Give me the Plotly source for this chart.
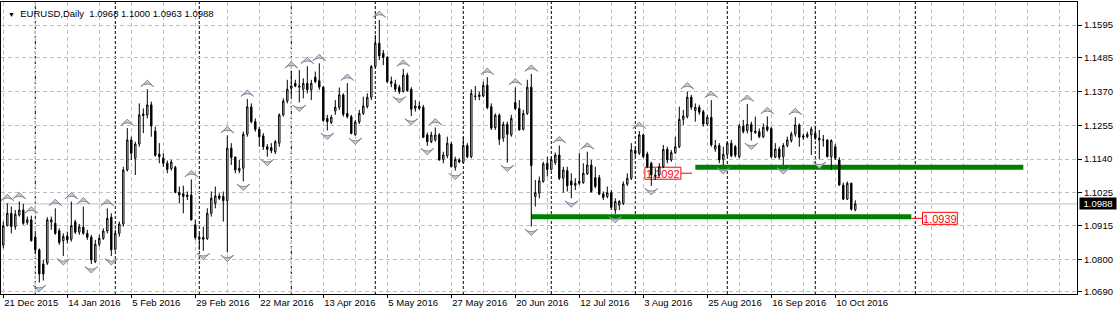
import plotly.graph_objects as go

symbol = "EURUSD,Daily"

opens = [1.0848,1.0915,1.0956,1.0911,1.0950,1.0967,1.0925,1.0934,1.0875,1.0832,
         1.0784,1.0787,1.0926,1.0922,1.0897,1.0863,1.0879,1.0868,1.0927,1.0892,
         1.0909,1.0888,1.0875,1.0792,1.0851,1.0871,1.0896,1.0943,1.0834,1.0888,
         1.0920,1.1103,1.1205,1.1143,1.1191,1.1293,1.1290,1.1324,1.1235,1.1157,
         1.1143,1.1126,1.1108,1.1112,1.1027,1.1022,1.1018,1.1018,1.0917,1.0875,
         1.0874,1.0870,1.0956,1.0990,1.1015,1.1013,1.0999,1.1177,1.1147,1.1101,
         1.1109,1.1224,1.1317,1.1267,1.1241,1.1219,1.1182,1.1179,1.1165,1.1194,
         1.1290,1.1337,1.1380,1.1397,1.1384,1.1377,1.1397,1.1375,1.1418,1.1406,
         1.1384,1.1278,1.1264,1.1303,1.1316,1.1358,1.1295,1.1284,1.1222,1.1266,
         1.1295,1.1318,1.1350,1.1454,1.1533,1.1499,1.1485,1.1403,1.1395,1.1384,
         1.1369,1.1425,1.1377,1.1312,1.1320,1.1316,1.1222,1.1199,1.1205,1.1222,
         1.1139,1.1151,1.1191,1.1112,1.1137,1.1129,1.1186,1.1148,1.1352,1.1352,
         1.1354,1.1391,1.1318,1.1247,1.1289,1.1211,1.1258,1.1222,1.1332,1.1312,
         1.1241,1.1295,1.1384,1.1013,1.1024,1.1064,1.1126,1.1105,1.1128,1.1154,
         1.1075,1.1101,1.1066,1.1051,1.1064,1.1060,1.1090,1.1120,1.1077,1.1077,
         1.1022,1.1013,1.1026,1.0967,1.0984,1.0990,1.1055,1.1075,1.1169,1.1160,
         1.1222,1.1157,1.1126,1.1081,1.1086,1.1114,1.1173,1.1137,1.1162,1.1182,
         1.1275,1.1284,1.1350,1.1305,1.1316,1.1301,1.1259,1.1282,1.1174,1.1186,
         1.1139,1.1156,1.1194,1.1182,1.1148,1.1252,1.1237,1.1258,1.1230,1.1233,
         1.1216,1.1250,1.1244,1.1146,1.1174,1.1148,1.1186,1.1203,1.1225,1.1256,
         1.1219,1.1216,1.1222,1.1227,1.1211,1.1205,1.1205,1.1148,1.1182,1.1137,
         1.1052,1.1004,1.1058,1.0968]
highs = [1.0928,1.0990,1.0979,1.0967,1.0996,1.0988,1.0945,1.0948,1.0888,1.0837,
         1.0798,1.0943,1.0945,1.0973,1.0905,1.0888,1.0894,1.0996,1.0934,1.0920,
         1.0979,1.0900,1.0883,1.0866,1.0883,1.0905,1.0973,1.0956,1.0900,1.0928,
         1.1114,1.1245,1.1216,1.1199,1.1329,1.1312,1.1377,1.1335,1.1250,1.1194,
         1.1160,1.1135,1.1137,1.1117,1.1047,1.1050,1.1030,1.1071,1.0934,1.0888,
         1.0911,1.0973,1.1030,1.1047,1.1024,1.1030,1.1220,1.1194,1.1148,1.1137,
         1.1233,1.1344,1.1329,1.1278,1.1250,1.1228,1.1191,1.1194,1.1205,1.1295,
         1.1346,1.1409,1.1440,1.1409,1.1442,1.1414,1.1455,1.1409,1.1437,1.1465,
         1.1388,1.1290,1.1290,1.1340,1.1383,1.1363,1.1398,1.1290,1.1273,1.1307,
         1.1352,1.1363,1.1459,1.1561,1.1612,1.1510,1.1490,1.1420,1.1409,1.1392,
         1.1446,1.1433,1.1384,1.1340,1.1335,1.1324,1.1230,1.1233,1.1247,1.1228,
         1.1165,1.1216,1.1199,1.1148,1.1143,1.1216,1.1194,1.1377,1.1388,1.1369,
         1.1403,1.1418,1.1329,1.1295,1.1295,1.1267,1.1267,1.1290,1.1383,1.1340,
         1.1307,1.1409,1.1429,1.1069,1.1081,1.1131,1.1148,1.1148,1.1162,1.1186,
         1.1114,1.1114,1.1092,1.1075,1.1160,1.1126,1.1165,1.1137,1.1114,1.1086,
         1.1030,1.1047,1.1035,1.1007,1.1001,1.1064,1.1092,1.1194,1.1182,1.1235,
         1.1227,1.1165,1.1131,1.1109,1.1126,1.1188,1.1182,1.1171,1.1216,1.1318,
         1.1307,1.1369,1.1358,1.1329,1.1324,1.1307,1.1290,1.1340,1.1205,1.1194,
         1.1182,1.1199,1.1205,1.1188,1.1259,1.1273,1.1327,1.1267,1.1284,1.1244,
         1.1261,1.1285,1.1250,1.1194,1.1182,1.1194,1.1216,1.1233,1.1282,1.1261,
         1.1227,1.1233,1.1250,1.1250,1.1239,1.1222,1.1207,1.1207,1.1191,1.1146,
         1.1060,1.1064,1.1060,1.1000]
lows = [1.0837,1.0911,1.0888,1.0900,1.0945,1.0917,1.0917,1.0860,1.0820,1.0721,
        1.0728,1.0781,1.0900,1.0883,1.0849,1.0811,1.0854,1.0860,1.0886,1.0883,
        1.0883,1.0866,1.0784,1.0787,1.0843,1.0866,1.0888,1.0811,1.0829,1.0877,
        1.0911,1.1098,1.1137,1.1086,1.1182,1.1228,1.1278,1.1216,1.1148,1.1126,
        1.1114,1.1092,1.1101,1.1024,1.0990,1.0956,1.1001,1.0931,1.0866,1.0832,
        1.0829,1.0866,1.0945,1.0973,1.1001,1.0928,1.0823,1.1120,1.1092,1.1092,
        1.1064,1.1216,1.1261,1.1233,1.1182,1.1171,1.1148,1.1160,1.1157,1.1182,
        1.1284,1.1329,1.1352,1.1384,1.1332,1.1346,1.1363,1.1340,1.1397,1.1375,
        1.1267,1.1237,1.1259,1.1290,1.1307,1.1284,1.1278,1.1224,1.1220,1.1259,
        1.1290,1.1312,1.1340,1.1448,1.1476,1.1459,1.1397,1.1384,1.1369,1.1361,
        1.1366,1.1369,1.1286,1.1301,1.1307,1.1211,1.1185,1.1194,1.1199,1.1135,
        1.1126,1.1143,1.1112,1.1101,1.1126,1.1126,1.1143,1.1143,1.1340,1.1340,
        1.1350,1.1309,1.1239,1.1239,1.1188,1.1199,1.1128,1.1216,1.1307,1.1237,
        1.1237,1.1290,1.0911,1.0979,1.1007,1.1060,1.1081,1.1101,1.1120,1.1069,
        1.1026,1.1030,1.1007,1.1035,1.1052,1.1056,1.1086,1.1026,1.1041,1.1018,
        1.1001,1.1007,1.0967,1.0954,1.0967,1.0984,1.1049,1.1069,1.1148,1.1154,
        1.1143,1.1109,1.1049,1.1069,1.1081,1.1109,1.1126,1.1131,1.1157,1.1177,
        1.1256,1.1278,1.1307,1.1267,1.1290,1.1250,1.1252,1.1182,1.1165,1.1126,
        1.1120,1.1148,1.1146,1.1146,1.1143,1.1227,1.1227,1.1203,1.1225,1.1211,
        1.1211,1.1233,1.1143,1.1143,1.1139,1.1120,1.1180,1.1196,1.1216,1.1182,
        1.1205,1.1211,1.1154,1.1205,1.1139,1.1182,1.1146,1.1103,1.1137,1.1049,
        1.1001,1.1001,1.0965,1.0963]
closes = [1.0913,1.0956,1.0911,1.0953,1.0967,1.0922,1.0934,1.0863,1.0832,1.0750,
          1.0750,1.0934,1.0934,1.0888,1.0857,1.0877,1.0866,1.0914,1.0892,1.0910,
          1.0888,1.0875,1.0798,1.0851,1.0871,1.0896,1.0939,1.0832,1.0888,1.0920,
          1.1103,1.1205,1.1160,1.1191,1.1290,1.1288,1.1324,1.1252,1.1153,1.1148,
          1.1126,1.1105,1.1130,1.1027,1.1018,1.1013,1.1013,1.0934,1.0874,1.0868,
          1.0868,1.0956,1.1007,1.1015,1.1007,1.0999,1.1177,1.1145,1.1103,1.1109,
          1.1224,1.1317,1.1267,1.1241,1.1216,1.1182,1.1173,1.1168,1.1199,1.1290,
          1.1337,1.1377,1.1388,1.1388,1.1388,1.1397,1.1375,1.1397,1.1403,1.1384,
          1.1271,1.1267,1.1282,1.1316,1.1358,1.1292,1.1284,1.1227,1.1266,1.1295,
          1.1320,1.1350,1.1454,1.1533,1.1490,1.1485,1.1403,1.1397,1.1377,1.1369,
          1.1425,1.1372,1.1309,1.1320,1.1312,1.1214,1.1199,1.1222,1.1222,1.1137,
          1.1154,1.1194,1.1114,1.1139,1.1130,1.1186,1.1148,1.1363,1.1354,1.1358,
          1.1390,1.1315,1.1245,1.1289,1.1207,1.1258,1.1224,1.1278,1.1311,1.1239,
          1.1295,1.1384,1.1118,1.1026,1.1066,1.1124,1.1105,1.1139,1.1154,1.1075,
          1.1103,1.1049,1.1052,1.1058,1.1058,1.1092,1.1120,1.1030,1.1047,1.1021,
          1.1010,1.1026,1.0976,1.0996,1.0996,1.1055,1.1075,1.1171,1.1160,1.1222,
          1.1148,1.1114,1.1086,1.1086,1.1114,1.1173,1.1137,1.1162,1.1182,1.1275,
          1.1286,1.1350,1.1316,1.1316,1.1299,1.1259,1.1282,1.1188,1.1186,1.1137,
          1.1156,1.1194,1.1151,1.1153,1.1252,1.1233,1.1258,1.1233,1.1235,1.1216,
          1.1248,1.1239,1.1148,1.1174,1.1146,1.1186,1.1205,1.1225,1.1256,1.1214,
          1.1214,1.1224,1.1242,1.1211,1.1205,1.1204,1.1148,1.1203,1.1143,1.1052,
          1.1004,1.1058,1.0970,1.0988]

date_labels = ["21 Dec 2015", "14 Jan 2016", "5 Feb 2016", "29 Feb 2016",
               "22 Mar 2016", "13 Apr 2016", "5 May 2016", "27 May 2016",
               "20 Jun 2016", "12 Jul 2016", "3 Aug 2016", "25 Aug 2016",
               "16 Sep 2016", "10 Oct 2016"]
price_ticks = [1.0690, 1.0800, 1.0915, 1.1025, 1.1140, 1.1255, 1.1370, 1.1485, 1.1595]
month_start_bars = [8, 28, 49, 72, 93, 115, 137, 158, 181, 203, 228]
fractal_up_bars = [1, 4, 7, 13, 17, 20, 26, 31, 36, 47, 56, 61, 72, 76, 79, 86, 94,
                   100, 108, 121, 128, 132, 139, 146, 159, 171, 177, 186, 191, 198]
fractal_down_bars = [9, 15, 22, 27, 50, 56, 60, 66, 74, 81, 88, 99, 102, 106, 113,
                     126, 132, 142, 153, 162, 180, 187, 195, 204]
level_prices = [1.0944, 1.1112]
level_start_bars = [132, 173]
level_end_bars = [227, 255]
level_label_values = [1.0939, 1.1092]

n = len(closes)
xs = list(range(n))
BAR_PX = 4.0
PX_PER_PRICE = 2947.0
label_step = 16
grid_step = 8

fig = go.Figure()

fig.add_trace(go.Candlestick(
    x=xs, open=opens, high=highs, low=lows, close=closes,
    increasing=dict(line=dict(color="black", width=1), fillcolor="white"),
    decreasing=dict(line=dict(color="black", width=1), fillcolor="black"),
    whiskerwidth=0, showlegend=False, hoverinfo="skip"))

off = 9.0 / PX_PER_PRICE
arrow_marker = dict(symbol="arrow-wide", size=9, color="#c9cbd3",
                    line=dict(color="#80879a", width=1))
fig.add_trace(go.Scatter(
    x=fractal_up_bars, y=[highs[i] + off for i in fractal_up_bars],
    mode="markers", marker=arrow_marker, showlegend=False, hoverinfo="skip"))
fig.add_trace(go.Scatter(
    x=fractal_down_bars, y=[lows[i] - off for i in fractal_down_bars],
    mode="markers", marker=dict(arrow_marker, angle=180),
    showlegend=False, hoverinfo="skip"))

shapes = []
for b in month_start_bars:
    shapes.append(dict(type="line", xref="x", yref="paper", x0=b, x1=b, y0=0, y1=1,
                       line=dict(color="black", width=1, dash="3px,2px"), layer="between"))
shapes.append(dict(type="line", xref="paper", yref="y", x0=0, x1=1,
                   y0=closes[-1], y1=closes[-1],
                   line=dict(color="#c0c0c0", width=1), layer="between"))
for k, (p, s, e, lv) in enumerate(zip(level_prices, level_start_bars, level_end_bars,
                                      level_label_values)):
    shapes.append(dict(type="line", xref="x", yref="y", x0=s, x1=e, y0=p, y1=p,
                       line=dict(color="#008000", width=5), layer="between"))
    half_h = 6.0 / PX_PER_PRICE
    if k == 0:
        c0, c1 = e, e + 2.8
        b0, b1 = e + 2.8, e + 11.5
    else:
        c0, c1 = s - 0.8, s - 3.6
        b0, b1 = s - 12.6, s - 3.6
    shapes.append(dict(type="line", xref="x", yref="y", x0=c0, x1=c1, y0=lv, y1=lv,
                       line=dict(color="red", width=1), layer="between"))
    shapes.append(dict(type="rect", xref="x", yref="y", x0=b0, x1=b1,
                       y0=lv - half_h, y1=lv + half_h,
                       line=dict(color="red", width=1), fillcolor="white", layer="between",
                       label=dict(text=f"{lv:.4f}",
                                  font=dict(color="red", size=11,
                                            family="Liberation Sans, Arial"))))

font_fam = "Liberation Sans, Arial, sans-serif"
grid_col = "#c0c0c0"
grid_dash = "4px,3px"

x0_px = 1.0
plot_w = 1117 - 1 - 40
xr0 = -(3.3 - x0_px) / BAR_PX
xr1 = xr0 + plot_w / BAR_PX
plot_h = 315 - 2 - 21
yr0 = price_ticks[0] - (294 - 291.7) / PX_PER_PRICE
yr1 = yr0 + plot_h / PX_PER_PRICE

fig.update_layout(
    width=1117, height=315,
    margin=dict(l=1, r=40, t=2, b=21, pad=0),
    paper_bgcolor="white", plot_bgcolor="white",
    showlegend=False, boxgap=0.5,
    shapes=shapes,
    xaxis=dict(
        range=[xr0, xr1], rangeslider=dict(visible=False),
        tickmode="array",
        tickvals=[i * label_step for i in range(len(date_labels))],
        ticktext=date_labels,
        ticks="outside", ticklen=3, tickcolor="black", tickwidth=1,
        ticklabelposition="outside right",
        tickfont=dict(family=font_fam, size=9.5, color="black"),
        showgrid=True, gridcolor=grid_col, griddash=grid_dash, gridwidth=1,
        minor=dict(tickmode="array",
                   tickvals=list(range(0, int(xr1) + 1, grid_step)),
                   showgrid=True, gridcolor=grid_col, griddash=grid_dash, ticks=""),
        showline=True, linecolor="black", linewidth=1, mirror=True,
        zeroline=False, fixedrange=True),
    yaxis=dict(
        range=[yr0, yr1], side="right",
        tickmode="array", tickvals=price_ticks,
        ticktext=[f"{v:.4f}" for v in price_ticks],
        ticks="outside", ticklen=4, tickcolor="black", tickwidth=1,
        tickfont=dict(family=font_fam, size=9.5, color="black"),
        showgrid=True, gridcolor=grid_col, griddash=grid_dash, gridwidth=1,
        showline=True, linecolor="black", linewidth=1, mirror=True,
        zeroline=False, fixedrange=True),
    annotations=[
        dict(xref="paper", yref="paper", x=0, y=1, xanchor="left", yanchor="top",
             xshift=5, yshift=-4, showarrow=False, align="left",
             text=(f"<span style='font-size:7px'>▼</span>\u00a0\u00a0{symbol}\u00a0\u00a0"
                   f"{opens[-1]:.4f} {highs[-1]:.4f} {lows[-1]:.4f} {closes[-1]:.4f}"),
             font=dict(family=font_fam, size=9.5, color="black")),
        dict(xref="paper", yref="y", x=1, y=closes[-1], xanchor="left", yanchor="middle",
             xshift=2, showarrow=False, text=f"{closes[-1]:.4f}",
             bgcolor="black", borderpad=0, width=36, height=11,
             font=dict(family=font_fam, size=9.5, color="white")),
    ],
)

fig.write_html("out.html")
